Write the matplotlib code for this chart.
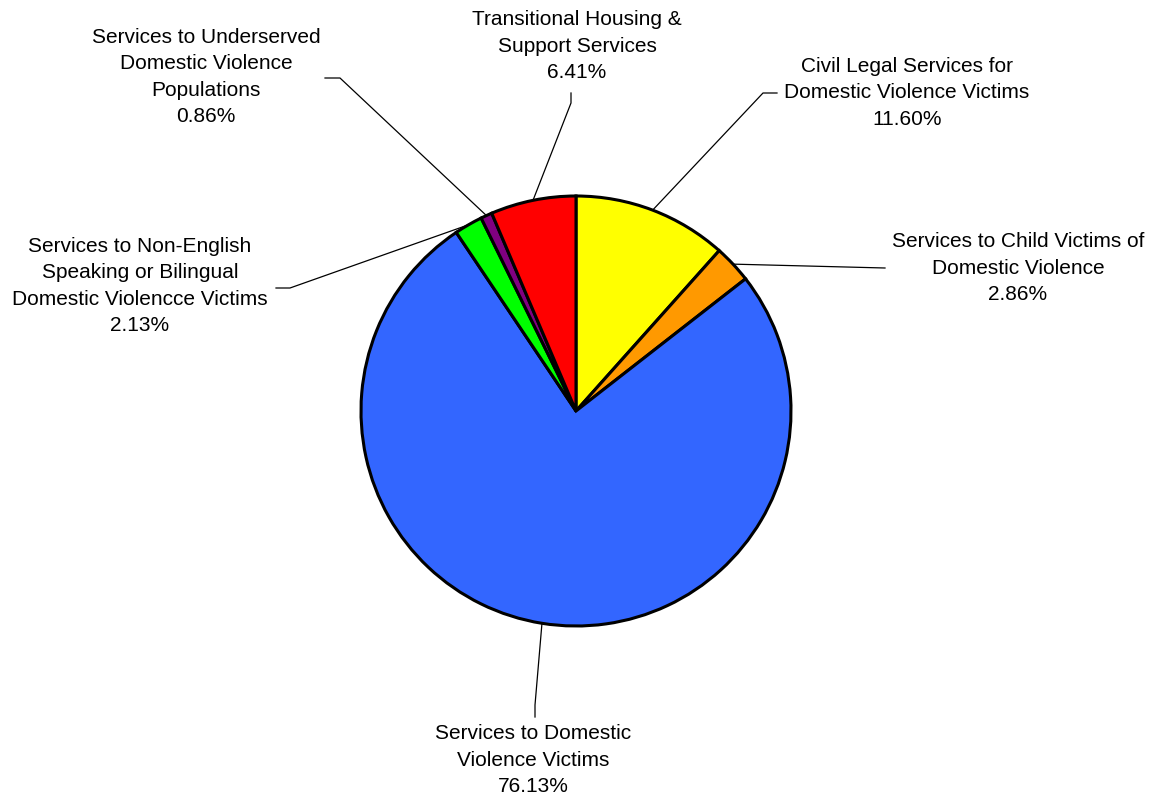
import numpy as np
import matplotlib
matplotlib.use("Agg")
import matplotlib.pyplot as plt

# ---------- Data ----------
labels = [
    "Civil Legal Services for\nDomestic Violence Victims",
    "Services to Child Victims of\nDomestic Violence",
    "Services to Domestic\nViolence Victims",
    "Services to Non-English\nSpeaking or Bilingual\nDomestic Violencce Victims",
    "Services to Underserved\nDomestic Violence\nPopulations",
    "Transitional Housing &\nSupport Services",
]
shares = [11.60, 2.86, 76.13, 2.13, 0.86, 6.41]
colors = ["#FFFF00", "#FF9900", "#3366FF", "#00FF00", "#800080", "#FF0000"]

# ---------- Layout (pixel coords, y measured from top) ----------
W, H = 1156, 802
CX, CY, R = 576, 411, 215
# label centre, elbow points of the leader line
label_pos = [(907, 93), (1018, 268), (533, 760), (140, 286), (206, 77), (577, 46)]
leaders = [
    [(763, 93), (777, 93)],
    [(885, 268)],
    [(535, 705), (535, 717)],
    [(290, 288), (276, 288)],
    [(340, 78), (325, 78)],
    [(571, 103), (571, 93)],
]

plt.rcParams["font.family"] = ["Liberation Sans", "DejaVu Sans"]
fig = plt.figure(figsize=(W / 100, H / 100), dpi=100)
ax = fig.add_axes([0, 0, 1, 1])
ax.set_xlim(0, W)
ax.set_ylim(0, H)
ax.set_aspect("equal")
ax.axis("off")

wedges, _ = ax.pie(
    shares, colors=colors, startangle=90, counterclock=False,
    center=(CX, H - CY), radius=R, normalize=True,
    wedgeprops=dict(edgecolor="black", linewidth=2.2),
)
ax.set_xlim(0, W)
ax.set_ylim(0, H)

for w, lab, val, (lx, ly), pts in zip(wedges, labels, shares, label_pos, leaders):
    mid = np.deg2rad((w.theta1 + w.theta2) / 2)
    x0 = w.center[0] + w.r * np.cos(mid)
    y0 = w.center[1] + w.r * np.sin(mid)
    xs = [x0] + [p[0] for p in pts]
    ys = [y0] + [H - p[1] for p in pts]
    ax.plot(xs, ys, color="black", linewidth=0.9, zorder=1)
    ax.text(lx, H - ly, f"{lab}\n{val:.2f}%", ha="center", va="center",
            fontsize=15, linespacing=1.47, color="black")

fig.savefig("out.png", dpi=100)
